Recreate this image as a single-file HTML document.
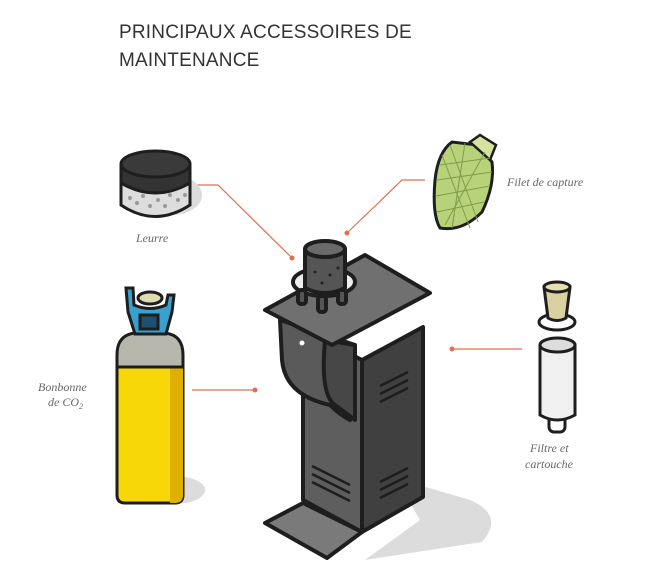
<!DOCTYPE html>
<html><head><meta charset="utf-8"><style>
body{margin:0;background:#fff;}
.t{position:absolute;left:119px;font:19px "Liberation Sans",sans-serif;color:#333;letter-spacing:0.2px}
</style></head><body>
<div style="position:relative;width:670px;height:580px;overflow:hidden">
<div class="t" style="top:22px">PRINCIPAUX ACCESSOIRES DE</div>
<div class="t" style="top:50px">MAINTENANCE</div>
<svg width="670" height="580" style="position:absolute;left:0;top:0" font-family="Liberation Serif, serif" font-style="italic" font-size="12" fill="#666">
<g stroke="#e07050" stroke-width="1.2" fill="none">
<polyline points="193,185 218,185 292,258"/>
<polyline points="425,180 402,180 347,233"/>
<line x1="452" y1="349" x2="522" y2="349"/>
<line x1="192" y1="390" x2="255" y2="390"/>
</g>
<g fill="#e07050"><circle cx="292" cy="258" r="2.5"/><circle cx="347" cy="233" r="2.5"/><circle cx="452" cy="349" r="2.5"/><circle cx="255" cy="390" r="2.5"/></g>
<!-- shadows -->
<g fill="#dcdcdc">
<path d="M395,478 L470,500 Q505,515 482,542 L365,560 L420,520 Z"/>
<ellipse cx="172" cy="195" rx="30" ry="20"/>
<ellipse cx="175" cy="490" rx="30" ry="14"/>
</g>
<!-- machine -->
<g stroke="#1e1e1e" stroke-width="4" stroke-linejoin="round">
<polygon points="265,523 303,503 362,532 327,558" fill="#7a7a7a"/>
<polygon points="303,330 362,360 362,532 303,500" fill="#5e5e5e"/>
<polygon points="362,360 423,327 423,497 362,532" fill="#404040"/>
<path d="M280,320 L282,360 Q285,395 330,405 Q340,415 350,420 L355,345 Z" fill="#5a5a5a"/>
<path d="M325,340 Q320,395 335,405 L355,420 L355,345 Z" fill="#474747"/>
<polygon points="265,310 365,255 430,293 332,345" fill="#707070"/>
<ellipse cx="324" cy="282" rx="31" ry="14" fill="#eee"/>
<rect x="298" y="290" width="8" height="14" rx="3" fill="#555"/>
<rect x="338" y="290" width="8" height="14" rx="3" fill="#555"/>
<rect x="318" y="296" width="8" height="16" rx="3" fill="#555"/>
<path d="M305,250 L305,288 Q325,298 345,288 L345,250 Z" fill="#555"/>
<ellipse cx="325" cy="249" rx="20" ry="8" fill="#6a6a6a"/>
</g>
<g fill="#222"><circle cx="315" cy="272" r="1.5"/><circle cx="330" cy="275" r="1.5"/><circle cx="322" cy="283" r="1.5"/><circle cx="338" cy="268" r="1.5"/></g>
<circle cx="302" cy="343" r="2.5" fill="#fff"/>
<g stroke="#1e1e1e" stroke-width="2.5">
<line x1="380" y1="386" x2="408" y2="372"/><line x1="380" y1="394" x2="408" y2="380"/><line x1="380" y1="402" x2="408" y2="388"/>
<line x1="380" y1="482" x2="408" y2="468"/><line x1="380" y1="490" x2="408" y2="476"/><line x1="380" y1="498" x2="408" y2="484"/>
<line x1="312" y1="466" x2="350" y2="485"/><line x1="312" y1="474" x2="350" y2="493"/><line x1="312" y1="482" x2="350" y2="501"/>
</g>
<!-- leurre -->
<g stroke="#1e1e1e" stroke-width="3">
<path d="M121,166 L121,205 Q155,228 190,205 L190,166 Z" fill="#ddd"/>
<path d="M121,166 L121,183 Q155,203 190,183 L190,166 Z" fill="#333"/>
<ellipse cx="155.5" cy="164" rx="34.5" ry="13" fill="#3a3a3a"/>
</g>
<g fill="#999"><circle cx="130" cy="198" r="2"/><circle cx="137" cy="203" r="2"/><circle cx="150" cy="206" r="2"/><circle cx="158" cy="200" r="2"/><circle cx="165" cy="206" r="2"/><circle cx="178" cy="200" r="2"/><circle cx="143" cy="196" r="2"/><circle cx="170" cy="195" r="2"/><circle cx="185" cy="195" r="2"/></g>
<text x="136" y="242">Leurre</text>
<!-- bottle -->
<g stroke="#1e1e1e" stroke-width="3">
<path d="M117,367 L117,495 Q117,503 125,503 L175,503 Q183,503 183,495 L183,367 Z" fill="#f7d708"/>
<path d="M183,367 L170,367 L170,503 L175,503 Q183,503 183,495 Z" fill="#e0b000" stroke="none"/>
<path d="M117,367 L117,355 Q117,335 135,333 L165,333 Q183,335 183,355 L183,367 Z" fill="#b8b7ad"/>
<path d="M126,288 L128,312 L135,334 L166,334 L172,312 L174,295 L168,295 L166,305 Q150,312 134,305 L133,288 Z" fill="#3aa0d0"/>
<ellipse cx="150" cy="298" rx="12" ry="6" fill="#dedcb0"/>
<rect x="140" y="315" width="18" height="14" fill="#1e5070"/>
</g>
<text x="38" y="391">Bonbonne</text>
<text x="48" y="406">de CO<tspan font-size="8" dy="3">2</tspan></text>
<!-- filet -->
<path d="M452,142 Q438,152 435,180 Q432,215 440,228 Q462,232 482,212 Q495,185 492,162 L478,145 Z" fill="#b8d27a" stroke="#1e1e1e" stroke-width="3"/>
<path d="M470,142 L480,135 L496,145 L490,160 Z" fill="#d4e4a0" stroke="#1e1e1e" stroke-width="2.5"/>
<g stroke="#7f9e48" stroke-width="1" fill="none"><path d="M440,165 L490,158 M437,180 L492,172 M436,196 L490,186 M437,212 L484,202 M450,145 L478,222 M465,143 L452,228 M442,155 L470,228 M485,152 L445,225"/></g>
<text x="507" y="186">Filet de capture</text>
<!-- filter -->
<g stroke="#1e1e1e" stroke-width="3">
<ellipse cx="557" cy="322" rx="18" ry="8" fill="#fff"/>
<path d="M544,287 L548,318 Q557,323 566,318 L570,287 Z" fill="#d9d2a0"/>
<ellipse cx="557" cy="287" rx="13" ry="5" fill="#e6dfb0"/>
<rect x="549" y="410" width="16" height="22" rx="5" fill="#fff"/>
<path d="M540,345 L540,415 Q557,425 575,415 L575,345 Z" fill="#f0f0f0"/>
<ellipse cx="557.5" cy="345" rx="17.5" ry="7" fill="#ddd"/>
</g>
<text x="530" y="452">Filtre et</text>
<text x="525" y="468">cartouche</text>
</svg>
</div>
</body></html>
